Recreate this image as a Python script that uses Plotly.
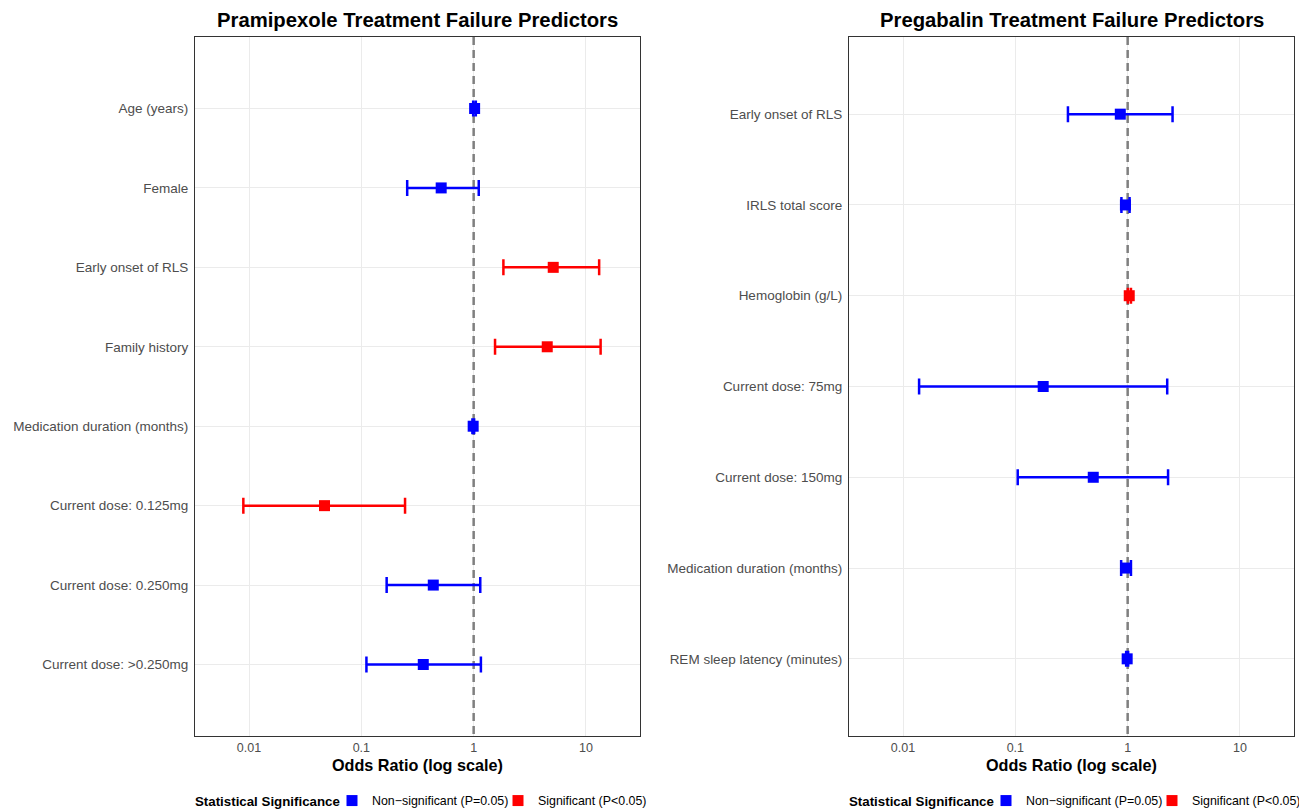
import plotly.graph_objects as go

# ---------------- data ----------------
prami_labels = ["Age (years)", "Female", "Early onset of RLS", "Family history",
                "Medication duration (months)", "Current dose: 0.125mg",
                "Current dose: 0.250mg", "Current dose: >0.250mg"]
prami_or = [1.02, 0.514, 5.11, 4.52, 0.99, 0.047, 0.437, 0.356]
prami_lo = [0.99, 0.256, 1.84, 1.55, 0.975, 0.0089, 0.168, 0.111]
prami_hi = [1.045, 1.11, 13.1, 13.5, 1.01, 0.245, 1.145, 1.16]
prami_sig = [False, False, True, True, False, True, False, False]

prega_labels = ["Early onset of RLS", "IRLS total score", "Hemoglobin (g/L)",
                "Current dose: 75mg", "Current dose: 150mg",
                "Medication duration (months)", "REM sleep latency (minutes)"]
prega_or = [0.86, 0.955, 1.033, 0.177, 0.494, 0.97, 0.99]
prega_lo = [0.294, 0.88, 1.005, 0.0139, 0.105, 0.875, 0.97]
prega_hi = [2.51, 1.04, 1.07, 2.25, 2.29, 1.07, 1.01]
prega_sig = [False, False, True, False, False, False, False]

ref_or = 1
tick_vals = [0.01, 0.1, 1, 10]
tick_text = ["0.01", "0.1", "1", "10"]
legend_title = "Statistical Significance"
legend_names = {False: "Non\u2212significant (P=0.05)", True: "Significant (P<0.05)"}
colors = {False: "#0000FF", True: "#FF0000"}

# body margin is removed in the page (see write_html below)
W, H = 1299, 811
FONT = "Liberation Sans, Arial, Helvetica, sans-serif"

def px(xr):
    return xr / W

def py(yr):
    return 1 - yr / H

fig = go.Figure()

def add_panel(labels, ors, los, his, sig, xa, ya, legend, e):
    n = len(labels)
    # dashed reference line at OR = 1, drawn before the points
    fig.add_trace(go.Scatter(
        x=[ref_or, ref_or], y=[-e, n - 1 + e], mode="lines",
        line=dict(color="#7f7f7f", width=2.5, dash="8px,5px"),
        xaxis=xa, yaxis=ya, showlegend=False, hoverinfo="skip", legend=legend))
    for s in [False, True]:
        idx = [i for i in range(n) if sig[i] == s]
        fig.add_trace(go.Scatter(
            x=[ors[i] for i in idx],
            y=idx,
            text=[labels[i] for i in idx],
            mode="markers",
            marker=dict(symbol="square", size=11, color=colors[s]),
            error_x=dict(type="data", symmetric=False,
                         array=[his[i] - ors[i] for i in idx],
                         arrayminus=[ors[i] - los[i] for i in idx],
                         color=colors[s], thickness=2.5, width=8),
            name=legend_names[s],
            xaxis=xa, yaxis=ya, legend=legend,
            showlegend=True,
        ))

e1 = 0.9
e2 = 0.85
add_panel(prami_labels, prami_or, prami_lo, prami_hi, prami_sig, "x", "y", "legend", e1)
add_panel(prega_labels, prega_or, prega_lo, prega_hi, prega_sig, "x2", "y2", "legend2", e2)

ydom = [py(736), py(37)]
x1dom = [px(195), px(640)]
x2dom = [px(849), px(1294)]

xcommon = dict(type="log", range=[-2.481, 1.481], tickvals=tick_vals, ticktext=tick_text,
               showgrid=True, gridcolor="#ebebeb", gridwidth=1, zeroline=False,
               showline=True, mirror=True, linecolor="#333333", linewidth=1.2,
               ticks="", tickfont=dict(size=12.5, color="#4d4d4d", family=FONT),
               automargin=False)
ycommon = dict(type="linear", showgrid=True, gridcolor="#ebebeb", gridwidth=1,
               zeroline=False, showline=True, mirror=True, linecolor="#333333",
               linewidth=1.2, ticks="", tickfont=dict(size=13.5, color="#4d4d4d", family=FONT),
               automargin=False, ticklabelstandoff=3)

legend_common = dict(orientation="h", y=py(801), yanchor="middle",
                     font=dict(size=12.4, family=FONT, color="#000000"), itemwidth=30,
                     entrywidth=121, entrywidthmode="pixels",
                     tracegroupgap=0, bgcolor="rgba(0,0,0,0)")

fig.update_layout(
    width=W, height=H,
    margin=dict(l=0, r=0, t=0, b=0, autoexpand=False),
    paper_bgcolor="white", plot_bgcolor="white",
    font=dict(family=FONT, color="#000000"),
    hovermode=False,
    xaxis=dict(domain=x1dom, anchor="y", **xcommon),
    yaxis=dict(domain=ydom, anchor="x", tickvals=list(range(len(prami_labels))),
               ticktext=prami_labels, range=[len(prami_labels) - 1 + e1, -e1], **ycommon),
    xaxis2=dict(domain=x2dom, anchor="y2", **xcommon),
    yaxis2=dict(domain=ydom, anchor="x2", tickvals=list(range(len(prega_labels))),
                ticktext=prega_labels, range=[len(prega_labels) - 1 + e2, -e2], **ycommon),
    legend=dict(x=px(332), xanchor="left", **legend_common),
    legend2=dict(x=px(986), xanchor="left", **legend_common),
    showlegend=True,
)

# titles, axis titles and legend titles
for t, xc, lx in [("Pramipexole Treatment Failure Predictors", (x1dom[0] + x1dom[1]) / 2, px(193)),
                  ("Pregabalin Treatment Failure Predictors", (x2dom[0] + x2dom[1]) / 2, px(847))]:
    fig.add_annotation(text="<b>" + t + "</b>", x=xc, y=py(20), xref="paper", yref="paper",
                       showarrow=False, xanchor="center", yanchor="middle",
                       font=dict(size=20.3, family=FONT, color="#000000"))
    fig.add_annotation(text="<b>Odds Ratio (log scale)</b>", x=xc, y=py(765),
                       xref="paper", yref="paper", showarrow=False,
                       xanchor="center", yanchor="middle",
                       font=dict(size=16.2, family=FONT, color="#000000"))
    fig.add_annotation(text="<b>" + legend_title + "</b>", x=lx, y=py(801),
                       xref="paper", yref="paper", showarrow=False,
                       xanchor="left", yanchor="middle",
                       font=dict(size=13.3, family=FONT, color="#000000"))

fig.write_html("out.html", config={"displayModeBar": False},
               post_script="document.body.style.margin='0';document.body.style.overflow='hidden';")
